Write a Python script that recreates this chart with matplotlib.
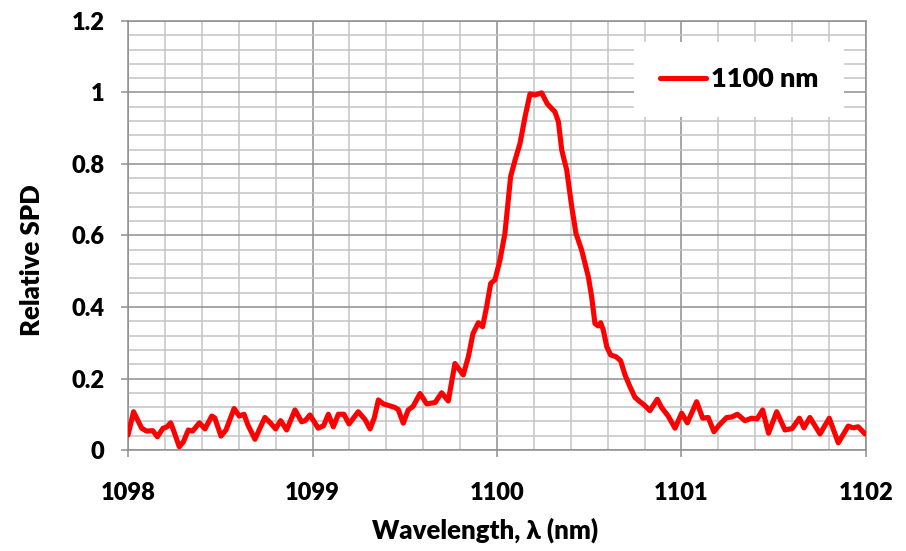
import numpy as np
import matplotlib.pyplot as plt
from matplotlib.ticker import MultipleLocator

plt.rcParams['font.family'] = ['Lato', 'DejaVu Sans']
plt.rcParams['font.weight'] = 'heavy'

# spectrum
wavelength = [
  1098.000, 1098.030, 1098.074, 1098.100, 1098.134, 1098.159, 1098.190, 1098.210, 1098.231, 1098.246,
  1098.278, 1098.300, 1098.327, 1098.350, 1098.387, 1098.417, 1098.454, 1098.470, 1098.504, 1098.531,
  1098.575, 1098.603, 1098.629, 1098.650, 1098.688, 1098.715, 1098.742, 1098.773, 1098.800, 1098.827,
  1098.860, 1098.905, 1098.941, 1098.960, 1098.986, 1099.031, 1099.060, 1099.086, 1099.113, 1099.140,
  1099.170, 1099.198, 1099.248, 1099.285, 1099.312, 1099.335, 1099.357, 1099.384, 1099.410, 1099.447,
  1099.465, 1099.492, 1099.519, 1099.545, 1099.583, 1099.619, 1099.665, 1099.700, 1099.736, 1099.772,
  1099.817, 1099.845, 1099.870, 1099.899, 1099.922, 1099.944, 1099.966, 1099.989, 1100.016, 1100.043,
  1100.061, 1100.074, 1100.098, 1100.125, 1100.152, 1100.179, 1100.206, 1100.242, 1100.273, 1100.314,
  1100.333, 1100.351, 1100.378, 1100.405, 1100.428, 1100.459, 1100.495, 1100.513, 1100.531, 1100.549,
  1100.562, 1100.576, 1100.595, 1100.616, 1100.645, 1100.670, 1100.694, 1100.721, 1100.748, 1100.775,
  1100.800, 1100.829, 1100.869, 1100.892, 1100.928, 1100.965, 1101.001, 1101.032, 1101.082, 1101.115,
  1101.145, 1101.176, 1101.205, 1101.245, 1101.270, 1101.303, 1101.344, 1101.380, 1101.410, 1101.440,
  1101.472, 1101.516, 1101.561, 1101.600, 1101.639, 1101.664, 1101.696, 1101.751, 1101.801, 1101.850,
  1101.904, 1101.930, 1101.958, 1101.995,
]
spd = [
  0.042, 0.107, 0.061, 0.053, 0.054, 0.037, 0.061, 0.064, 0.076, 0.056,
  0.009, 0.023, 0.056, 0.053, 0.076, 0.059, 0.095, 0.090, 0.039, 0.056,
  0.116, 0.095, 0.100, 0.070, 0.030, 0.061, 0.091, 0.075, 0.059, 0.082,
  0.056, 0.112, 0.079, 0.082, 0.098, 0.061, 0.068, 0.100, 0.065, 0.100,
  0.100, 0.073, 0.107, 0.085, 0.059, 0.090, 0.140, 0.129, 0.125, 0.119,
  0.113, 0.075, 0.112, 0.122, 0.158, 0.129, 0.133, 0.160, 0.137, 0.242,
  0.210, 0.261, 0.326, 0.356, 0.345, 0.401, 0.466, 0.476, 0.531, 0.606,
  0.699, 0.765, 0.811, 0.858, 0.932, 0.996, 0.993, 0.999, 0.968, 0.946,
  0.918, 0.839, 0.783, 0.681, 0.606, 0.559, 0.485, 0.429, 0.354, 0.347,
  0.356, 0.336, 0.289, 0.266, 0.261, 0.250, 0.210, 0.177, 0.147, 0.135,
  0.125, 0.110, 0.142, 0.119, 0.095, 0.061, 0.103, 0.076, 0.135, 0.089,
  0.091, 0.051, 0.070, 0.091, 0.092, 0.100, 0.082, 0.089, 0.087, 0.112,
  0.047, 0.107, 0.056, 0.060, 0.089, 0.062, 0.091, 0.045, 0.089, 0.020,
  0.067, 0.062, 0.065, 0.045,
]
series_name = '1100 nm'

fig = plt.figure(figsize=(9.06, 5.51), dpi=100)
ax = fig.add_axes([0.1413, 0.1833, 0.8145, 0.7786])

ax.plot(wavelength, spd, color='#ff0000', linewidth=3.7, solid_joinstyle='round',
        solid_capstyle='round', label=series_name, zorder=3)

ax.set_xlim(1098, 1102)
ax.set_ylim(0, 1.2)
ax.xaxis.set_major_locator(MultipleLocator(1))
ax.xaxis.set_minor_locator(MultipleLocator(0.2))
ax.yaxis.set_major_locator(MultipleLocator(0.2))
ax.yaxis.set_minor_locator(MultipleLocator(0.04))
ax.set_yticks([0, 0.2, 0.4, 0.6, 0.8, 1, 1.2], ['0', '0.2', '0.4', '0.6', '0.8', '1', '1.2'])

ax.set_axisbelow(True)
ax.grid(which='minor', color='#c4c4c4', linewidth=1.1)
ax.grid(which='major', color='#8e8e8e', linewidth=1.1)
for s in ax.spines.values():
  s.set_color('#8e8e8e')
  s.set_linewidth(1.1)

ax.tick_params(which='major', length=5, width=1.1, color='#8e8e8e', labelsize=17)
ax.tick_params(axis='x', which='major', pad=18)
ax.tick_params(axis='y', which='major', pad=12)
ax.tick_params(which='minor', length=0)
for lbl in ax.get_xticklabels() + ax.get_yticklabels():
  lbl.set_fontweight('heavy')

ax.set_xlabel('Wavelength, λ (nm)', fontsize=18.5, fontweight='heavy', labelpad=10)
ax.set_ylabel('Relative SPD', fontsize=18.5, fontweight='heavy', labelpad=20)
ax.xaxis.label.set_x(0.484)
ax.yaxis.label.set_y(0.443)

leg = ax.legend(loc='center', bbox_to_anchor=(0.828, 0.864), fontsize=19.5, frameon=True,
                fancybox=False, edgecolor='none', facecolor='white', framealpha=1,
                borderpad=0.95, handlelength=1.7, handletextpad=0.2)
for t in leg.get_texts():
  t.set_fontweight('heavy')

fig.savefig('out.png', dpi=100)
